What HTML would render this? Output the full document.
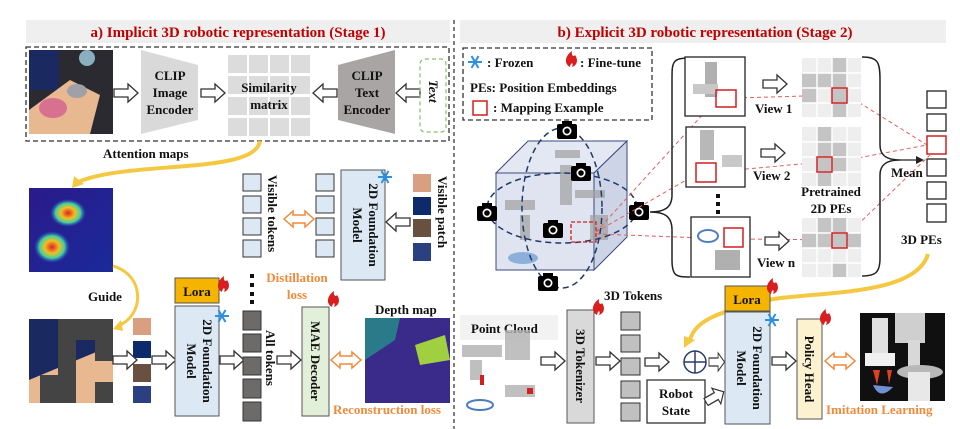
<!DOCTYPE html>
<html><head><meta charset="utf-8"><style>
html,body{margin:0;padding:0;background:#fff}
svg{display:block}
text{font-family:"Liberation Serif",serif;font-weight:bold;fill:#111}
.o{fill:#f08a3c}
.r{fill:#c00000}
</style></head><body>
<svg width="960" height="429" viewBox="0 0 960 429" xmlns="http://www.w3.org/2000/svg">
<defs>
<symbol id="ar" overflow="visible"><polygon points="0,-4 14,-4 14,-9 24,0 14,9 14,4 0,4" fill="#fff" stroke="#333" stroke-width="1.3"/></symbol>
<symbol id="da" overflow="visible"><polygon points="0,0 9,-8 9,-4 21,-4 21,-8 30,0 21,8 21,4 9,4 9,8" fill="#fff" stroke="#f08a3c" stroke-width="1.5"/></symbol>
<symbol id="flame" overflow="visible"><path d="M0,12 C-7,8 -4,0 2,-4 C1,1 4,2 5,0 C8,4 8,10 2,12 C4,8 1,6 0,12Z" fill="#d81e1e"/></symbol>
<symbol id="snow" overflow="visible"><g stroke="#2f8fe0" stroke-width="2"><line x1="-7" y1="0" x2="7" y2="0"/><line x1="-3.5" y1="-6" x2="3.5" y2="6"/><line x1="-3.5" y1="6" x2="3.5" y2="-6"/></g><circle r="2" fill="#2f8fe0"/></symbol>
<symbol id="cam" overflow="visible"><rect x="-10" y="-7" width="20" height="15" rx="2" fill="#000"/><rect x="-5" y="-10" width="10" height="4" fill="#000"/><circle r="4.5" fill="#fff"/><circle r="2.8" fill="#000"/></symbol>
<linearGradient id="heat" x1="0" y1="0" x2="1" y2="1"><stop offset="0" stop-color="#2a1a8a"/><stop offset="1" stop-color="#1a2a9a"/></linearGradient>
<radialGradient id="hs"><stop offset="0" stop-color="#e0202a"/><stop offset=".4" stop-color="#f0c020"/><stop offset=".7" stop-color="#40d0a0"/><stop offset="1" stop-color="#3050d0" stop-opacity="0"/></radialGradient>
</defs>

<rect x="26" y="20" width="424" height="23" fill="#efefef"/>
<text x="238" y="37" text-anchor="middle" font-size="15" class="r">a) Implicit 3D robotic representation (Stage 1)</text>
<rect x="460" y="20" width="486" height="23" fill="#efefef"/>
<text x="705" y="37" text-anchor="middle" font-size="15" class="r">b) Explicit 3D robotic representation (Stage 2)</text>
<line x1="454" y1="20" x2="454" y2="429" stroke="#555" stroke-width="1.5" stroke-dasharray="4,3"/>

<rect x="26" y="47" width="423" height="94" fill="none" stroke="#333" stroke-width="1.3" stroke-dasharray="5,3"/>
<rect x="29" y="50" width="84" height="84" fill="#2a2a30"/>
<rect x="29" y="50" width="30" height="40" fill="#1a2a60"/>
<polygon points="29,110 70,80 100,95 90,134 29,134" fill="#e8b890"/>
<ellipse cx="53" cy="108" rx="14" ry="10" fill="#d87090"/>
<ellipse cx="77" cy="91" rx="10" ry="7" fill="#a0a0a8"/>
<circle cx="87" cy="58" r="8" fill="#8ab0c0"/>
<use href="#ar" x="114" y="93"/>
<polygon points="141,50 198,65 198,120 141,134" fill="#d9d9d9"/>
<text font-size="13" text-anchor="middle"><tspan x="170" y="80">CLIP</tspan><tspan x="170" y="97">Image</tspan><tspan x="170" y="114">Encoder</tspan></text>
<use href="#ar" x="201" y="93"/>
<g fill="#dcdcdc">
<rect x="228" y="55" width="19" height="18"/><rect x="249" y="55" width="19" height="18"/><rect x="270" y="55" width="19" height="18"/><rect x="291" y="55" width="19" height="18"/>
<rect x="228" y="76" width="19" height="18"/><rect x="249" y="76" width="19" height="18"/><rect x="270" y="76" width="19" height="18"/><rect x="291" y="76" width="19" height="18"/>
<rect x="228" y="97" width="19" height="18"/><rect x="249" y="97" width="19" height="18"/><rect x="270" y="97" width="19" height="18"/><rect x="291" y="97" width="19" height="18"/>
<rect x="228" y="118" width="19" height="18"/><rect x="249" y="118" width="19" height="18"/><rect x="270" y="118" width="19" height="18"/><rect x="291" y="118" width="19" height="18"/>
</g>
<text font-size="13" text-anchor="middle"><tspan x="269" y="92">Similarity</tspan><tspan x="269" y="109">matrix</tspan></text>
<use href="#ar" transform="translate(337,93) scale(-1,1)"/>
<polygon points="338,65 395,50 395,134 338,120" fill="#a9a5a5"/>
<text font-size="13" text-anchor="middle"><tspan x="367" y="80">CLIP</tspan><tspan x="367" y="97">Text</tspan><tspan x="367" y="114">Encoder</tspan></text>
<use href="#ar" transform="translate(420,93) scale(-1,1)"/>
<rect x="420" y="59" width="26" height="73" rx="5" fill="none" stroke="#8cbc6c" stroke-dasharray="4,3" stroke-width="1.2"/>
<text font-size="13" font-style="italic" transform="translate(429,80) rotate(90)">Text</text>

<text x="103" y="158" font-size="13">Attention maps</text>
<path d="M260,141 C255,175 130,160 78,182" fill="none" stroke="#f5c842" stroke-width="4"/>
<polygon points="72,188 74,176 84,184" fill="#f5c842"/>

<rect x="29" y="188" width="84" height="84" fill="url(#heat)"/>
<ellipse cx="68" cy="213" rx="18" ry="14" fill="url(#hs)"/>
<ellipse cx="52" cy="247" rx="18" ry="16" fill="url(#hs)"/>
<text x="88" y="301" font-size="13">Guide</text>
<path d="M113,266 C145,275 145,315 118,326" fill="none" stroke="#f5c842" stroke-width="3"/>
<polygon points="113,329 121,320 123,331" fill="#f5c842"/>

<rect x="29" y="319" width="84" height="84" fill="#1a2a60"/>
<polygon points="29,380 113,345 113,403 29,403" fill="#e8b890"/>
<g fill="#444"><rect x="58" y="319" width="55" height="21"/><rect x="58" y="340" width="18" height="42"/><rect x="95" y="340" width="18" height="21"/><rect x="40" y="375" width="36" height="28"/><rect x="95" y="382" width="18" height="21"/></g>
<rect x="133" y="318" width="18" height="17" fill="#d8a080"/>
<rect x="133" y="341" width="18" height="17" fill="#0d2a6a"/>
<rect x="133" y="364" width="18" height="18" fill="#6a5040"/>
<rect x="133" y="386" width="18" height="17" fill="#2a4080"/>
<use href="#ar" x="113" y="360"/>
<use href="#ar" x="152" y="360"/>

<rect x="175" y="278" width="44" height="25" fill="#f5b400" stroke="#555"/>
<text x="197" y="296" font-size="13" text-anchor="middle">Lora</text>
<use href="#flame" x="222" y="280"/>
<rect x="175" y="306" width="44" height="110" fill="#dce9f5" stroke="#555"/>
<text font-size="13" text-anchor="middle" transform="translate(199,361) rotate(90)"><tspan x="0" y="-4">2D Foundation</tspan><tspan x="0" y="12">Model</tspan></text>
<use href="#snow" x="222" y="316"/>
<use href="#ar" x="220" y="360"/>
<g fill="#6d6a6a" stroke="#333"><rect x="243" y="311" width="18" height="19"/><rect x="243" y="334" width="18" height="18"/><rect x="243" y="357" width="18" height="18"/><rect x="243" y="379" width="18" height="19"/><rect x="243" y="402" width="18" height="19"/></g>
<g fill="#111"><rect x="250" y="274" width="4" height="4"/><rect x="250" y="283" width="4" height="4"/><rect x="250" y="292" width="4" height="4"/><rect x="250" y="300" width="4" height="4"/></g>
<text font-size="13" transform="translate(266,330) rotate(90)">All tokens</text>
<use href="#ar" x="277" y="360"/>
<rect x="302" y="307" width="27" height="109" fill="#e2efd9" stroke="#555"/>
<text font-size="13" text-anchor="middle" transform="translate(311,361) rotate(90)">MAE Decoder</text>
<use href="#flame" x="332" y="295"/>
<use href="#da" x="331" y="360"/>
<text x="375" y="314" font-size="13">Depth map</text>
<rect x="365" y="318" width="85" height="85" fill="#3a2a8a"/>
<polygon points="365,318 400,318 395,340 365,360" fill="#2a7a8a"/>
<polygon points="415,345 445,335 450,360 420,365" fill="#a0d040"/>
<text x="333" y="414" font-size="13" class="o">Reconstruction loss</text>

<g fill="#dce9f5" stroke="#333"><rect x="243" y="174" width="18" height="17"/><rect x="243" y="196" width="18" height="17"/><rect x="243" y="218" width="18" height="17"/><rect x="243" y="240" width="18" height="17"/>
<rect x="316" y="174" width="18" height="17"/><rect x="316" y="196" width="18" height="17"/><rect x="316" y="218" width="18" height="17"/><rect x="316" y="240" width="18" height="17"/></g>
<text font-size="13" transform="translate(268,175) rotate(90)">Visible tokens</text>
<use href="#da" x="284" y="219"/>
<rect x="341" y="170" width="44" height="110" fill="#dce9f5" stroke="#555"/>
<text font-size="13" text-anchor="middle" transform="translate(365,225) rotate(90)"><tspan x="0" y="-4">2D Foundation</tspan><tspan x="0" y="12">Model</tspan></text>
<use href="#snow" x="385" y="177"/>
<use href="#ar" transform="translate(410,222) scale(-1,1)"/>
<rect x="413" y="174" width="18" height="18" fill="#d8a080"/>
<rect x="413" y="197" width="18" height="18" fill="#0d2a6a"/>
<rect x="413" y="219" width="18" height="18" fill="#6a5040"/>
<rect x="413" y="243" width="18" height="18" fill="#2a4080"/>
<text font-size="13" transform="translate(438,176) rotate(90)">Visible patch</text>
<text font-size="13" class="o" text-anchor="middle"><tspan x="297" y="282">Distillation</tspan><tspan x="297" y="299">loss</tspan></text>

<rect x="463" y="48" width="189" height="72" fill="none" stroke="#333" stroke-width="1.3" stroke-dasharray="5,3"/>
<use href="#snow" x="475" y="62"/>
<text x="487" y="67" font-size="13">: Frozen</text>
<use href="#flame" x="570" y="55"/>
<text x="580" y="67" font-size="13">: Fine-tune</text>
<text x="470" y="92" font-size="13">PEs: Position Embeddings</text>
<rect x="473" y="101" width="14" height="14" fill="none" stroke="#d02020" stroke-width="1.5"/>
<text x="493" y="112" font-size="13">: Mapping Example</text>

<polygon points="496,173 528,141 627,141 594,173" fill="#e4e8f2" stroke="#3a4a80"/>
<polygon points="594,173 627,141 627,237 594,270" fill="#cdd4e6" stroke="#3a4a80"/>
<rect x="496" y="173" width="98" height="97" fill="#dfe4f0" stroke="#3a4a80"/>
<g fill="#a0a0a0" opacity=".7"><rect x="555" y="150" width="25" height="8"/><rect x="560" y="165" width="12" height="40"/><rect x="505" y="200" width="30" height="10"/><rect x="520" y="215" width="10" height="25"/><rect x="575" y="190" width="30" height="8"/><rect x="590" y="215" width="18" height="25"/></g>
<ellipse cx="523" cy="258" rx="15" ry="6" fill="#6a9ad0" opacity=".7"/>
<g fill="none" stroke="#1f3a6a" stroke-width="1.5" stroke-dasharray="6,4"><ellipse cx="562" cy="208" rx="40" ry="80"/><ellipse cx="562" cy="208" rx="75" ry="35"/></g>
<rect x="571" y="222" width="25" height="20" fill="none" stroke="#d02020" stroke-width="1.3" stroke-dasharray="4,2"/>
<use href="#cam" x="567" y="131"/><use href="#cam" x="581" y="173"/><use href="#cam" x="487" y="213"/><use href="#cam" x="553" y="230"/><use href="#cam" x="548" y="283"/><use href="#cam" x="639" y="212"/>

<g stroke="#e06060" stroke-width="1" stroke-dasharray="4,3" fill="none">
<line x1="596" y1="232" x2="705" y2="112"/><line x1="596" y1="232" x2="700" y2="172"/><line x1="596" y1="234" x2="705" y2="238"/>
<line x1="736" y1="98" x2="839" y2="95"/><line x1="724" y1="171" x2="823" y2="162"/><line x1="744" y1="239" x2="839" y2="240"/>
<line x1="847" y1="95" x2="927" y2="145"/><line x1="831" y1="163" x2="927" y2="145"/><line x1="847" y1="235" x2="930" y2="155"/>
</g>

<path d="M690,58 C672,58 672,62 672,80 L672,195 C672,208 664,212 650,212 C664,212 672,216 672,230 L672,260 C672,276 676,277 690,277" fill="none" stroke="#222" stroke-width="1.5"/>
<path d="M862,57 C878,57 880,62 880,80 L880,145 C880,155 886,160 900,160 M900,160 C886,160 880,165 880,175 L880,258 C880,272 876,276 862,276" fill="none" stroke="#222" stroke-width="1.5"/>
<line x1="900" y1="160" x2="918" y2="160" stroke="#222" stroke-width="1.3"/>
<polygon points="924,160 916,156 916,164" fill="#222"/>
<text x="891" y="177" font-size="13">Mean</text>

<rect x="685" y="57" width="60" height="59" fill="#fff" stroke="#222" stroke-width="1.3"/>
<rect x="705" y="62" width="12" height="35" fill="#b0b0b0"/><rect x="693" y="84" width="25" height="10" fill="#c8c8c8"/>
<rect x="716" y="90" width="20" height="17" fill="none" stroke="#d02020" stroke-width="1.5"/>
<rect x="686" y="127" width="59" height="60" fill="#fff" stroke="#222" stroke-width="1.3"/>
<rect x="700" y="130" width="14" height="30" fill="#b8b8b8"/><rect x="722" y="155" width="20" height="12" fill="#c8c8c8"/>
<rect x="696" y="163" width="20" height="19" fill="none" stroke="#d02020" stroke-width="1.5"/>
<rect x="691" y="217" width="59" height="60" fill="#fff" stroke="#222" stroke-width="1.3"/>
<ellipse cx="708" cy="236" rx="10" ry="6" fill="none" stroke="#5080c0" stroke-width="2"/><rect x="715" y="250" width="25" height="20" fill="#b0b0b0"/>
<rect x="724" y="228" width="19" height="19" fill="none" stroke="#d02020" stroke-width="1.5"/>
<use href="#ar" x="763" y="84"/><use href="#ar" x="761" y="153"/><use href="#ar" x="765" y="241"/>
<text x="755" y="113" font-size="13">View 1</text>
<text x="753" y="180" font-size="13">View 2</text>
<text x="757" y="267" font-size="13">View n</text>
<g fill="#111"><rect x="716" y="194" width="4" height="4"/><rect x="716" y="202" width="4" height="4"/><rect x="716" y="210" width="4" height="4"/></g>

<g fill="#eeeeee">
<rect x="802" y="58" width="59" height="59"/><rect x="802" y="127" width="59" height="59"/><rect x="802" y="218" width="59" height="59"/>
</g>
<g fill="#c4c4c4">
<rect x="832" y="58" width="15" height="15"/><rect x="802" y="73" width="15" height="15"/><rect x="817" y="73" width="15" height="15"/><rect x="832" y="73" width="15" height="15"/><rect x="802" y="88" width="15" height="15"/><rect x="832" y="88" width="15" height="15"/><rect x="832" y="103" width="15" height="14"/>
<rect x="817" y="127" width="15" height="15"/><rect x="817" y="142" width="15" height="15"/><rect x="832" y="142" width="15" height="15"/><rect x="817" y="157" width="15" height="15"/><rect x="832" y="157" width="15" height="15"/><rect x="817" y="172" width="15" height="14"/>
<rect x="817" y="218" width="15" height="15"/><rect x="832" y="218" width="15" height="15"/><rect x="802" y="233" width="59" height="15"/><rect x="832" y="263" width="15" height="14"/>
</g>
<g stroke="#fff" stroke-width="1.5">
<line x1="817" y1="58" x2="817" y2="117"/><line x1="832" y1="58" x2="832" y2="117"/><line x1="847" y1="58" x2="847" y2="117"/>
<line x1="802" y1="73" x2="861" y2="73"/><line x1="802" y1="88" x2="861" y2="88"/><line x1="802" y1="103" x2="861" y2="103"/>
<line x1="817" y1="127" x2="817" y2="186"/><line x1="832" y1="127" x2="832" y2="186"/><line x1="847" y1="127" x2="847" y2="186"/>
<line x1="802" y1="142" x2="861" y2="142"/><line x1="802" y1="157" x2="861" y2="157"/><line x1="802" y1="172" x2="861" y2="172"/>
<line x1="817" y1="218" x2="817" y2="277"/><line x1="832" y1="218" x2="832" y2="277"/><line x1="847" y1="218" x2="847" y2="277"/>
<line x1="802" y1="233" x2="861" y2="233"/><line x1="802" y1="248" x2="861" y2="248"/><line x1="802" y1="263" x2="861" y2="263"/>
</g>
<g fill="none" stroke="#d02020" stroke-width="1.5"><rect x="832" y="88" width="15" height="15"/><rect x="817" y="157" width="15" height="15"/><rect x="832" y="233" width="15" height="15"/></g>
<text font-size="13" text-anchor="middle"><tspan x="831" y="196">Pretrained</tspan><tspan x="831" y="213">2D PEs</tspan></text>

<g fill="#fff" stroke="#222" stroke-width="1.3"><rect x="927" y="91" width="19" height="17"/><rect x="927" y="114" width="19" height="17"/><rect x="927" y="159" width="19" height="17"/><rect x="927" y="182" width="19" height="17"/><rect x="927" y="204" width="19" height="18"/></g>
<rect x="927" y="136" width="19" height="18" fill="#fff" stroke="#d02020" stroke-width="1.5"/>
<text x="901" y="244" font-size="13">3D PEs</text>

<path d="M928,254 C915,300 800,290 760,302 C720,312 695,320 690,340" fill="none" stroke="#f5c842" stroke-width="4"/>
<polygon points="684,348 684,336 695,340" fill="#f5c842"/>
<text x="604" y="300" font-size="13">3D Tokens</text>
<rect x="460" y="315" width="98" height="25" fill="#f2f2f2"/>
<text x="471" y="333" font-size="13">Point Cloud</text>
<g fill="#b0b0b0" opacity=".8"><rect x="462" y="345" width="40" height="12"/><rect x="505" y="330" width="25" height="30"/><rect x="470" y="360" width="12" height="20"/><rect x="505" y="385" width="30" height="12"/></g>
<rect x="480" y="375" width="4" height="10" fill="#d02020"/><rect x="527" y="388" width="6" height="6" fill="#d02020"/>
<ellipse cx="480" cy="405" rx="13" ry="5" fill="none" stroke="#4a7ac0" stroke-width="2"/>
<use href="#ar" x="541" y="361"/>
<rect x="567" y="310" width="27" height="113" fill="#d9d9d9" stroke="#555"/>
<text font-size="13" text-anchor="middle" transform="translate(576,366) rotate(90)">3D Tokenizer</text>
<use href="#flame" x="597" y="303"/>
<use href="#ar" x="596" y="361"/>
<g fill="#c0c0c0" stroke="#333"><rect x="621" y="312" width="19" height="18"/><rect x="621" y="335" width="19" height="17"/><rect x="621" y="358" width="19" height="17"/><rect x="621" y="381" width="19" height="17"/><rect x="621" y="403" width="19" height="18"/></g>
<use href="#ar" x="645" y="362"/>
<circle cx="695" cy="362" r="11" fill="#fff" stroke="#2a3a6a" stroke-width="1.5"/>
<line x1="684" y1="362" x2="706" y2="362" stroke="#2a3a6a" stroke-width="1.5"/><line x1="695" y1="351" x2="695" y2="373" stroke="#2a3a6a" stroke-width="1.5"/>
<use href="#ar" transform="translate(709,362) scale(0.65,1)"/>
<rect x="647" y="380" width="58" height="43" fill="#fff" stroke="#333" stroke-width="1.3"/>
<text font-size="13" text-anchor="middle"><tspan x="676" y="398">Robot</tspan><tspan x="676" y="415">State</tspan></text>
<use href="#ar" transform="translate(706,402) rotate(-30) scale(0.85,1)"/>
<rect x="725" y="286" width="45" height="25" fill="#f5b400" stroke="#555"/>
<text x="747" y="304" font-size="13" text-anchor="middle">Lora</text>
<use href="#flame" x="771" y="282"/>
<rect x="725" y="312" width="45" height="112" fill="#dce9f5" stroke="#555"/>
<text font-size="13" text-anchor="middle" transform="translate(749,368) rotate(90)"><tspan x="0" y="-4">2D Foundation</tspan><tspan x="0" y="12">Model</tspan></text>
<use href="#snow" x="772" y="320"/>
<use href="#ar" x="772" y="361"/>
<rect x="797" y="319" width="25" height="100" fill="#fdf2d0" stroke="#555"/>
<text font-size="13" text-anchor="middle" transform="translate(805,369) rotate(90)">Policy Head</text>
<use href="#flame" x="824" y="313"/>
<use href="#da" x="825" y="361"/>
<rect x="860" y="313" width="85" height="88" fill="#101010"/>
<rect x="872" y="318" width="16" height="40" fill="#e0e0e0"/><rect x="895" y="313" width="30" height="30" fill="#cfcfcf"/><rect x="908" y="340" width="12" height="30" fill="#d8d8d8"/>
<rect x="865" y="353" width="30" height="13" fill="#f0f0f0"/>
<ellipse cx="920" cy="372" rx="23" ry="7" fill="#b8b8b8"/><rect x="908" y="372" width="22" height="29" fill="#e8e8e8"/>
<path d="M873,385 Q880,401 893,387Z" fill="#7090d0"/><polygon points="873,370 880,370 877,385" fill="#e04020"/><polygon points="887,370 892,370 889,384" fill="#e04020"/>
<text x="826" y="414" font-size="13" class="o">Imitation Learning</text>
</svg>
</body></html>
